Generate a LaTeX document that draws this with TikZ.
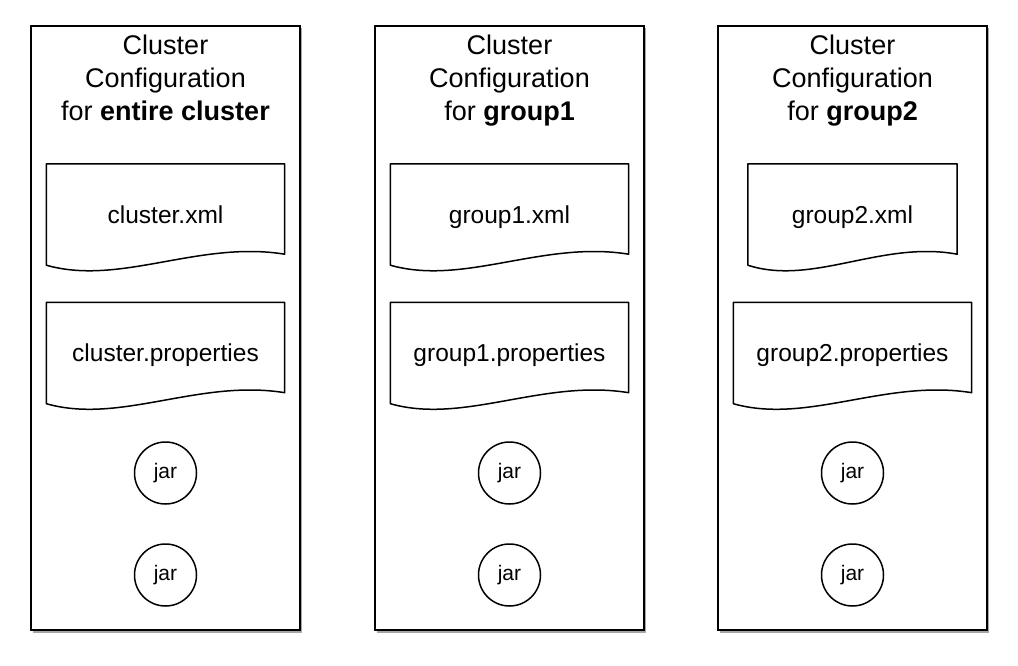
\documentclass[tikz,border=0pt]{standalone}
\usepackage{fontspec}
\setmainfont{Liberation Sans}
\usetikzlibrary{positioning,calc,shadows}

\tikzset{
  column/.style={draw, line width=1.6pt, fill=white, minimum width=269pt, minimum height=604pt,
    drop shadow={shadow xshift=1.5pt, shadow yshift=-2.5pt, fill=black, opacity=0.35}},
  title/.style={align=center, inner sep=0pt, font=\fontsize{27}{33}\selectfont},
  doc/.style={minimum width=238pt, minimum height=108pt, inner sep=0pt,
    text height=18pt, text depth=8pt, font=\fontsize{24.5}{28}\selectfont},
  docline/.style={line width=1.5pt, line join=round},
  jar/.style={draw, circle, line width=1.5pt, minimum size=62pt, inner sep=0pt,
    font=\fontsize{21}{25}\selectfont}
}

% document outline with a wavy lower edge
\newcommand{\wavedoc}[1]{%
  \draw[docline] (#1.north west) -- (#1.north east) -- ($(#1.south east)+(0,-18)$)
    .. controls ($(#1.south west)!0.64!(#1.south east)+(0,-32)$)
    and ($(#1.south west)!0.31!(#1.south east)+(0,14)$) .. ($(#1.south west)+(0,-7)$) -- cycle;}

\begin{document}
\begin{tikzpicture}[x=1pt,y=-1pt]
  \useasboundingbox (0,0) rectangle (1018,666);

  % Columns
  \foreach \i/\cx/\grp/\file/\xw in {1/165.5/entire cluster/cluster/238,
                                      2/509.5/group1/group1/238,
                                      3/852.5/group2/group2/209} {
    \node[column] (col\i) at (\cx,328) {};
    \node[title, below=10pt of col\i.north] (title\i) {Cluster\\Configuration\\for \textbf{\grp}};
    % Files
    \node[doc, minimum width=\xw pt] (xml\i) at (\cx,218) {\file.xml};
    \node[doc] (props\i) at (\cx,356.5) {\file.properties};
    \wavedoc{xml\i}
    \wavedoc{props\i}
    % Jars
    \node[jar] (jarA\i) at (\cx,473) {jar};
    \node[jar] (jarB\i) at (\cx,575) {jar};
  }
\end{tikzpicture}
\end{document}
